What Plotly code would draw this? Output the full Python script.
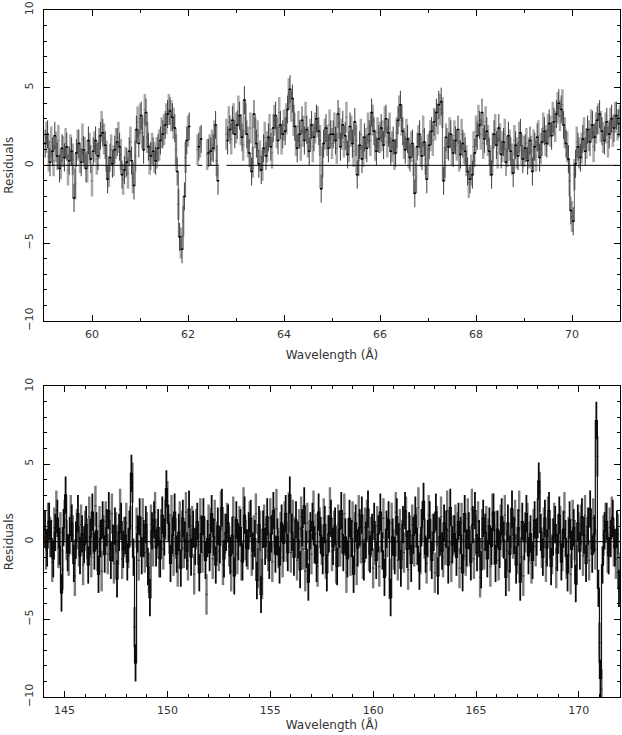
import numpy as np
import plotly.graph_objects as go

# === Données : résidus (en sigma) ===
# panneau haut : grille 0.05 A, deux jeux (clair / foncé), None = pas de données
top_bin = 0.05
top_dark_start = 59.025
top_light_start = 59.05

top_dark = [
    1.4, 2.0, 0.2, 0.9, 1.9, 0.6, -0.2, 1.1, 0.5, 1.2, 0.3, 0.9, -2.1, 0.8, 1.4, 0.2, 1.0, -0.2, 1.6, 0.4,
    0.9, 1.6, 0.6, 1.9, 2.1, 1.3, -0.9, 0.5, 0.1, 1.0, 1.5, 1.2, -0.6, -0.3, 0.2, 0.9, 0.3, -1.3, 2.3, 1.4,
    3.2, 1.0, 3.4, 1.2, 0.6, 0.9, 0.3, 1.1, 1.6, 2.0, 2.6, 3.3, 3.5, 3.1, 2.4, -0.4, -4.6, -5.4, -2.0, 1.6,
    2.5, None, None, None, 1.2, 1.7, None, None, 0.8, 0.9, 1.1, 2.6, -1.0, None, None, None, 1.6, 2.3, 2.9, 2.0,
    2.6, 3.2, 1.8, 4.2, 2.0, 0.8, -0.4, 3.3, 1.4, 0.1, -0.3, 1.1, 0.6, 1.8, 1.2, 2.4, 3.2, 1.6, 2.6, 2.0,
    2.2, 3.6, 4.9, 4.3, 2.5, 1.1, 2.0, 2.9, 1.6, 2.3, 0.9, 2.6, 1.8, 3.0, 2.2, -1.5, 1.4, 2.4, 1.1, 2.0,
    2.0, 1.6, 3.3, 1.2, 2.6, 1.9, 0.7, 2.5, 1.4, 2.8, -0.6, 1.3, 0.4, 1.8, 1.1, 2.0, 3.4, 2.2, 0.9, 1.7,
    2.4, 1.3, 3.0, 2.1, 0.9, 1.6, 0.8, 2.9, 3.9, 2.2, 1.0, 1.7, 0.5, 1.4, -1.8, 1.2, 2.0, 0.6, 1.5, -0.9,
    1.3, 2.2, 2.8, 3.4, 3.9, 4.1, -1.0, 1.8, 1.2, 2.0, 0.8, 1.6, 2.3, 0.7, 1.4, 0.9, -0.4, -0.9, -0.6, 0.8,
    1.9, 2.6, 3.4, 1.7, 2.2, 0.9, -0.6, 2.0, 1.3, 2.4, 0.7, 1.5, 0.2, 1.9, 0.9, -0.5, 1.3, 0.6, 2.1, 0.4,
    1.1, 0.3, 1.6, -0.4, 1.2, 1.8, 0.5, 1.5, 2.2, 1.4, 2.7, 1.9, 2.8, 3.3, 4.0, 3.6, 2.6, 1.4, 0.4, -2.9,
    -3.6, 0.1, 1.2, 0.5, 1.7, 0.9, 2.3, 1.5, 2.6, 1.8, 2.9, 3.3, 2.2, 1.6, 2.8, 2.0, 3.0, 2.4, 3.2, 2.7,
]

top_light = [
    1.8, 0.6, 1.5, 0.3, 1.2, 1.6, 0.1, 0.9, 1.4, -0.3, 1.0, 0.4, -1.2, 1.3, 0.5, 1.7, 0.8, -0.1, 1.1, -1.0,
    1.2, 0.4, 1.4, 2.5, 1.7, 0.6, -0.4, 1.0, 0.3, 1.4, 1.8, 0.7, -0.9, 0.2, -0.5, 1.5, -0.8, 0.6, 2.8, 3.0,
    2.1, 3.6, 1.8, 0.4, 1.1, 0.5, 0.8, 1.3, 2.1, 2.3, 3.0, 3.6, 3.2, 2.7, 1.0, -2.5, -5.0, -3.6, 0.5, 2.2,
    None, None, None, 1.0, 1.5, None, None, 0.7, 1.0, 1.3, 1.9, 0.3, None, None, None, 2.0, 2.8, 1.7, 3.0, 2.4,
    3.5, 2.3, 1.3, 3.0, 1.5, 2.4, 0.2, 2.1, 1.9, 0.6, 0.0, 1.8, 1.2, 2.3, 0.8, 2.9, 2.1, 3.4, 1.7, 2.6,
    3.0, 4.6, 3.8, 2.9, 1.6, 2.5, 1.3, 2.2, 3.1, 1.5, 2.0, 1.2, 2.4, 2.8, 1.6, 0.2, 2.0, 1.6, 2.6, 1.4,
    2.4, 1.1, 2.7, 2.0, 1.5, 3.1, 1.2, 2.2, 0.9, 1.6, 0.3, 2.0, 0.9, 1.4, 2.4, 1.6, 2.9, 1.3, 2.1, 1.8,
    1.9, 2.8, 1.5, 2.4, 1.2, 0.7, 2.1, 3.5, 2.9, 1.4, 2.0, 0.8, 1.2, 0.3, -0.8, 1.6, 0.9, 2.2, 0.4, 1.0,
    1.9, 1.6, 2.6, 3.0, 3.6, 3.4, 0.2, 1.4, 2.1, 1.0, 1.9, 1.3, 0.6, 2.0, 1.1, 0.3, -1.1, -0.3, 1.2, 2.2,
    2.9, 2.0, 1.4, 2.8, 1.6, 0.3, 1.1, 2.3, 0.8, 1.7, 1.2, 2.0, 0.9, 1.3, 0.4, 1.6, 0.8, 1.8, 1.0, 0.9,
    1.4, 0.8, 0.9, 1.3, 0.6, 1.9, 1.1, 2.4, 1.6, 2.3, 2.2, 3.1, 2.5, 3.7, 3.2, 3.9, 2.1, 1.2, -1.0, -3.3,
    -0.6, 1.5, 0.8, 1.1, 2.1, 1.4, 1.9, 2.6, 1.2, 2.4, 3.0, 2.5, 1.8, 2.4, 1.5, 2.7, 2.2, 3.1, 2.6, 2.9,
]

top_err_dark = 0.9
top_err_light = 1.0

# panneau bas : grille 0.1 A
bot_bin = 0.1
bot_dark_start = 144.05
bot_light_start = 144.1

bot_dark = [
    0.8, -0.4, 1.3, 0.2, -1.1, 0.6, 1.5, -0.3, -3.3, 0.9, 3.0, -0.7, 0.4, 1.2, -1.4, 0.1, 1.8, -0.9, 0.5, -0.2,
    1.1, -1.5, 0.3, 1.9, -0.6, 0.7, -2.1, 0.2, 1.4, -0.8, 0.9, 2.0, -1.2, -0.1, 1.0, -2.4, 0.6, 1.3, -0.5, 0.4,
    -1.3, 0.8, 4.4, -1.0, -7.8, 0.5, 1.6, -0.9, 0.2, 1.1, -1.6, -3.6, 0.7, 1.4, -0.4, 0.9, -1.1, 1.7, 0.3, 3.4,
    1.2, -1.4, 0.4, 1.9, -0.8, 0.6, -1.7, 1.5, 0.1, -0.6, 2.1, -1.0, 0.8, -0.3, 1.3, -2.0, 0.5, 1.6, -1.2, 0.2,
    -0.7, 1.8, 0.3, -1.5, 1.0, -0.2, 2.2, -1.1, 0.6, 1.2, -0.9, 0.4, -2.2, 1.4, 0.0, 0.9, -1.3, 1.7, -0.4, 0.7,
    1.5, -0.6, 0.2, -2.5, 1.1, -3.4, 0.8, -0.3, 1.6, -1.2, 0.5, 2.0, -0.8, 0.3, -1.5, 1.2, -0.1, 1.8, -0.7, 3.0,
    0.6, -1.0, 1.4, 0.1, -1.8, 0.9, 2.3, -0.5, -2.6, 0.7, 1.3, -0.2, -1.4, 1.9, 0.4, -0.9, 1.1, -2.0, 0.5, 1.5,
    -0.3, 1.0, -1.6, 0.8, 2.0, -0.7, 0.3, -1.1, 1.5, 0.2, -2.1, 1.2, -0.4, 0.9, 1.7, -1.3, 0.1, 2.1, -0.8, 0.6,
    1.3, -1.2, 0.5, 1.9, -0.6, -2.3, 0.8, 1.4, -3.6, 0.3, -0.9, 1.6, 0.0, -1.7, 1.1, 2.0, -0.5, 0.7, -1.4, 0.4,
    1.7, -0.3, -1.9, 0.9, 2.6, -0.8, 0.2, 1.4, -1.2, 0.6, 1.9, -2.2, 0.3, -0.6, 1.2, 0.8, -1.5, 2.2, -0.2, 0.5,
    -1.0, 1.3, 0.4, -2.0, 1.8, -0.4, 0.7, -1.3, 1.1, 2.0, -0.7, 0.2, -1.8, 1.5, 0.6, -1.1, 1.0, -0.3, 1.9, -1.4,
    0.8, -0.5, 1.6, 0.1, -2.3, 1.2, -0.8, 2.1, 0.4, -1.5, 0.9, -2.6, 1.3, 0.0, 1.8, -0.9, 0.5, -1.2, 1.4, 0.3,
    3.9, 0.6, -1.0, 1.5, -0.4, 2.0, -1.6, 0.3, 1.1, -0.7, 1.7, -1.3, 0.8, 0.2, -2.0, 1.4, -0.5, 0.9, -2.7, 1.2,
    -0.6, 1.6, 0.4, -1.4, 1.0, 2.1, -0.8, 0.5, 7.8, -3.0, -8.8, -1.5, 0.7, 1.3, -0.9, 0.2, 1.5, -0.4, 0.8, -3.0,
]

bot_light = [
    -0.5, 1.2, 0.3, -1.3, 0.9, 2.0, -0.4, 0.6, -1.8, 1.4, 0.1, -0.9, 1.7, 0.4, -2.2, 0.8, -0.3, 1.1, -1.5, 0.7,
    0.2, 1.6, -1.0, 0.5, 2.3, -0.6, 1.0, -1.9, 0.4, 1.3, -0.8, 0.1, 1.8, -1.4, 0.6, -0.2, 2.1, -1.1, 0.3, 1.2,
    -0.4, 1.0, 3.8, -5.5, 0.9, -1.2, 0.3, 1.5, -0.7, 0.6, -2.0, 1.1, -0.3, 1.9, 0.2, -1.0, 0.8, -0.5, 1.4, 2.6,
    0.5, 1.7, -0.9, 0.2, -1.6, 1.3, 0.7, -0.4, 1.9, -1.2, 0.4, 1.0, -2.1, 0.8, -0.2, 1.5, -0.7, 0.3, -3.4, 1.1,
    0.9, -1.1, 1.4, 0.0, -0.6, 2.0, -1.5, 0.5, 1.2, -0.3, -1.9, 1.6, 0.3, -0.8, 1.0, -1.2, 2.2, 0.1, -0.5, 1.3,
    -0.9, 0.4, 1.8, -1.7, 0.7, -2.4, 1.1, 0.2, -0.6, 1.5, -1.3, 0.9, 2.1, -0.4, 0.6, -1.0, 1.3, 0.0, 1.9, -0.7,
    1.4, 0.3, -1.2, 0.8, 1.6, -0.5, -1.9, 1.2, 0.1, -0.8, 2.0, 0.5, -1.6, 0.9, -0.2, 1.5, -1.1, 0.4, 2.2, -0.6,
    0.7, -1.4, 1.1, -0.3, 0.5, 1.8, -2.0, 0.2, -0.9, 1.3, 0.6, -1.5, 1.7, -0.1, -1.1, 0.9, 1.4, -0.6, 0.3, -1.7,
    -0.2, 1.0, -1.6, 0.6, 1.5, -0.9, 0.3, -2.4, 1.2, -0.5, 1.9, -1.2, 0.8, 0.1, -0.7, 1.6, -1.8, 0.4, 1.1, -0.3,
    0.9, 2.2, -0.8, 1.3, 0.2, -1.4, 1.7, -0.6, 0.5, -2.0, 1.0, 0.3, 1.6, -1.0, -0.2, 2.0, 0.7, -1.3, 0.4, 1.1,
    0.6, -1.7, 1.2, 0.1, -0.9, 1.5, -0.3, 2.1, -1.1, 0.4, 1.3, -2.3, 0.8, -0.5, 1.0, 0.2, -1.6, 1.8, -0.2, 0.7,
    -1.2, 1.1, 0.3, 1.7, -0.6, -1.9, 0.9, 0.2, 1.4, -0.8, 2.0, -1.0, -2.2, 0.6, 1.2, 0.0, -1.4, 0.8, -0.3, 1.5,
    3.2, -0.4, 0.9, -1.3, 1.6, 0.2, -0.8, 1.2, -1.7, 0.5, 1.0, -0.6, 1.9, -1.1, 0.3, -2.1, 1.4, 0.1, -1.5, 0.6,
    1.1, -0.9, 1.7, 0.3, -1.2, 0.8, 1.5, -0.5, 5.5, -6.5, -9.5, 0.4, 1.2, -0.7, 0.9, 1.6, -0.3, -1.1, 0.5, -2.0,
]

bot_err_dark = 1.2
bot_err_light = 1.3


def grid(start, step, n):
    return start + step * np.arange(n)


def barres(x, y, err, half, col_v, col_h, w_v, w_h, xa, ya):
    # points invisibles + barres d'erreur (verticale = sigma, horizontale = largeur du bin)
    return go.Scatter(
        x=x, y=y, mode="markers", marker=dict(size=0, opacity=0),
        error_y=dict(type="constant", value=err, width=0, color=col_v, thickness=w_v),
        error_x=dict(type="constant", value=half, width=0, color=col_h, thickness=w_h),
        xaxis=xa, yaxis=ya, showlegend=False, hoverinfo="skip",
    )


def histo(x, y, couleur, w, xa, ya):
    return go.Scatter(x=x, y=y, mode="lines", line=dict(color=couleur, width=w, shape="hvh"),
                      xaxis=xa, yaxis=ya, showlegend=False, hoverinfo="skip")


def ligne_zero(x, y, half, xa, ya):
    xs, ys = [], []
    for c, v in zip(x, y):
        if v is None:
            xs.append(None)
            ys.append(None)
        else:
            xs += [c - half, c + half]
            ys += [0, 0]
    return go.Scatter(x=xs, y=ys, mode="lines", line=dict(color="black", width=1),
                      xaxis=xa, yaxis=ya, showlegend=False, hoverinfo="skip")


x_td = grid(top_dark_start, top_bin, len(top_dark))
x_tl = grid(top_light_start, top_bin, len(top_light))
x_bd = grid(bot_dark_start, bot_bin, len(bot_dark))
x_bl = grid(bot_light_start, bot_bin, len(bot_light))

fig = go.Figure()
fig.add_trace(barres(x_tl, top_light, top_err_light, top_bin / 2, "#a8a8a8", "#777777", 2.5, 1, "x", "y"))
fig.add_trace(histo(x_td, top_dark, "#3a3a3a", 0.8, "x", "y"))
fig.add_trace(barres(x_td, top_dark, top_err_dark, top_bin / 2, "#3c3c3c", "#000000", 1, 1.5, "x", "y"))
fig.add_trace(ligne_zero(x_td, top_dark, top_bin / 2, "x", "y"))

fig.add_trace(barres(x_bl, bot_light, bot_err_light, bot_bin / 2, "#7a7a7a", "#333333", 2.4, 1.2, "x2", "y2"))
fig.add_trace(histo(x_bd, bot_dark, "#111111", 1.2, "x2", "y2"))
fig.add_trace(barres(x_bd, bot_dark, bot_err_dark, bot_bin / 2, "#0a0a0a", "#000000", 1.8, 1.2, "x2", "y2"))
fig.add_trace(ligne_zero(x_bd, bot_dark, bot_bin / 2, "x2", "y2"))

police = dict(family="DejaVu Sans", size=11, color="#333333")
axe = dict(showline=True, linecolor="black", linewidth=1, mirror="ticks",
           ticks="inside", ticklen=6, tickcolor="black", tickwidth=1,
           showgrid=False, zeroline=False, tickfont=police,
           title_font=dict(family="DejaVu Sans", size=12, color="#333333"))
mineur = dict(ticks="inside", ticklen=3, tickcolor="black", dtick=1, showgrid=False)

fig.update_layout(
    width=622, height=735, autosize=False,
    margin=dict(l=44, r=1, t=7, b=38),
    paper_bgcolor="white", plot_bgcolor="white",
    xaxis=dict(axe, range=[59, 71], dtick=2, minor=mineur, anchor="y",
               title=dict(text="Wavelength (Å)", standoff=10), ticklabelstandoff=3),
    yaxis=dict(axe, range=[-10, 10], dtick=5, minor=mineur, domain=[0.5478, 1], anchor="x",
               tickangle=-90, title=dict(text="Residuals", standoff=6), ticklabelstandoff=6),
    xaxis2=dict(axe, range=[144, 172], dtick=5, minor=mineur, anchor="y2",
                title=dict(text="Wavelength (Å)", standoff=4), ticklabelstandoff=3),
    yaxis2=dict(axe, range=[-10, 10], dtick=5, minor=mineur, domain=[0, 0.4522], anchor="x2",
                tickangle=-90, title=dict(text="Residuals", standoff=6), ticklabelstandoff=6),
)

# pas de marge de page, pas de barre d'outils, pas de redimensionnement automatique
fig.write_html("out.html", config={"responsive": False, "displayModeBar": False},
               post_script="document.body.style.margin='0';document.body.style.overflow='hidden';")
